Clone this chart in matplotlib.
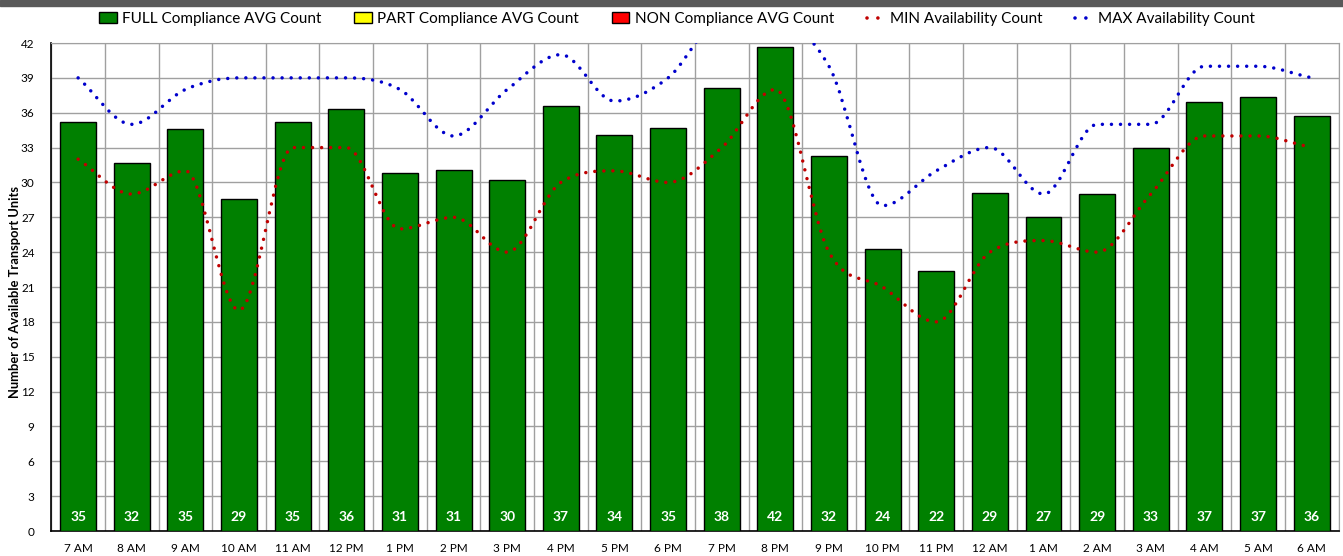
import matplotlib
matplotlib.use("Agg")
import matplotlib.pyplot as plt
import numpy as np
from matplotlib.path import Path
from matplotlib.patches import PathPatch, Patch, Rectangle
from matplotlib.lines import Line2D

plt.rcParams['font.family'] = ['Lato', 'DejaVu Sans']

hours = ['7 AM', '8 AM', '9 AM', '10 AM', '11 AM', '12 PM', '1 PM', '2 PM', '3 PM',
         '4 PM', '5 PM', '6 PM', '7 PM', '8 PM', '9 PM', '10 PM', '11 PM', '12 AM',
         '1 AM', '2 AM', '3 AM', '4 AM', '5 AM', '6 AM']
full_avg = [35.2, 31.7, 34.6, 28.6, 35.2, 36.3, 30.8, 31.1, 30.2, 36.6, 34.1, 34.7,
            38.1, 41.65, 32.3, 24.3, 22.4, 29.1, 27.0, 29.0, 33.0, 36.95, 37.35, 35.7]
part_avg = [0] * 24
non_avg = [0] * 24
min_avail = [32, 29, 31, 19, 33, 33, 26, 27, 24, 30, 31, 30,
             33, 38, 24, 21, 18, 24, 25, 24, 29, 34, 34, 33]
max_avail = [39, 35, 38, 39, 39, 39, 38, 34, 38, 41, 37, 39,
             44, 44, 40, 28, 31, 33, 29, 35, 35, 40, 40, 39]


def monotone_path(vals):
    # monotone cubic (fritsch-carlson) as bezier segments, like the source chart
    y = np.array(vals, float)
    n = len(y)
    d = np.diff(y)
    m = np.zeros(n)
    m[0], m[-1] = d[0], d[-1]
    for i in range(1, n - 1):
        if d[i - 1] * d[i] > 0:
            m[i] = (d[i - 1] + d[i]) / 2
    for i in range(n - 1):
        if d[i] == 0:
            m[i] = m[i + 1] = 0
            continue
        a, b = m[i] / d[i], m[i + 1] / d[i]
        s = a * a + b * b
        if s > 9:
            t = 3 / np.sqrt(s)
            m[i], m[i + 1] = t * a * d[i], t * b * d[i]
    pts = [(0, y[0])]
    codes = [Path.MOVETO]
    for i in range(n - 1):
        pts += [(i + 1 / 3, y[i] + m[i] / 3), (i + 2 / 3, y[i + 1] - m[i + 1] / 3), (i + 1, y[i + 1])]
        codes += [Path.CURVE4] * 3
    return Path(pts, codes)


fig = plt.figure(figsize=(13.43, 5.56), dpi=100)
ax = fig.add_axes([51.3 / 1343, 1 - 531 / 556, (1338.5 - 51.3) / 1343, (531 - 43) / 556])

fig.patches.append(Rectangle((0, 1 - 6 / 556), 1, 6 / 556, transform=fig.transFigure,
                             color='#595959', zorder=0))

x = np.arange(len(hours))
ax.bar(x, full_avg, width=0.67, color='#008000', edgecolor='black', linewidth=1, zorder=3)
ax.bar(x, part_avg, width=0.67, bottom=full_avg, color='#FFFF00', edgecolor='black',
       linewidth=0, zorder=3)

dot = (0, (0.01, 2.6))
for vals, col in [(min_avail, '#C00000'), (max_avail, '#0000CC')]:
    ax.add_patch(PathPatch(monotone_path(vals), facecolor='none', edgecolor=col, lw=2.5,
                           linestyle=dot, capstyle='round', zorder=4))

for xi, v in zip(x, full_avg):
    ax.annotate(f"{round(v)}", (xi, 0), xytext=(0, 10), textcoords='offset points',
                ha='center', va='center', color='white', fontsize=10, fontweight='bold',
                zorder=5)

ax.set_xlim(-0.5, len(hours) - 0.5)
ax.set_ylim(0, 42)
ax.set_yticks(np.arange(0, 43, 3))
ax.set_xticks(x)
ax.set_xticklabels(hours, fontsize=8.5)
ax.set_xticks(np.arange(-0.5, len(hours), 1), minor=True)
ax.tick_params(axis='both', which='both', length=0, labelsize=8.5)
ax.tick_params(axis='x', pad=9)
ax.tick_params(axis='y', pad=12)
ax.grid(axis='y', color='#A0A0A0', lw=1, zorder=0)
ax.grid(axis='x', which='minor', color='#A0A0A0', lw=1, zorder=0)
ax.set_axisbelow(True)
for s in ['top', 'right']:
    ax.spines[s].set_color('#A0A0A0')
for s in ['left', 'bottom']:
    ax.spines[s].set_color('black')
    ax.spines[s].set_linewidth(1.2)
ax.set_ylabel('Number of Available Transport Units', fontsize=9.3, fontweight='bold')
ax.yaxis.set_label_coords((21 - 51.3) / 1287, 0.49)

legdot = (0, (0.01, 3.0))
handles = [
    Patch(facecolor='#008000', edgecolor='black', lw=1),
    Patch(facecolor='#FFFF00', edgecolor='black', lw=1),
    Patch(facecolor='#FF0000', edgecolor='black', lw=1),
    Line2D([0], [0], color='#C00000', lw=2.6, linestyle=legdot, dash_capstyle='round'),
    Line2D([0], [0], color='#0000CC', lw=2.6, linestyle=legdot, dash_capstyle='round'),
]
labels = ['FULL Compliance AVG Count', 'PART Compliance AVG Count', 'NON Compliance AVG Count',
          'MIN Availability Count', 'MAX Availability Count']
fig.legend(handles, labels, loc='center', bbox_to_anchor=(0.504, 1 - 19 / 556), ncol=5,
           frameon=False, fontsize=11, handlelength=1.15, handleheight=0.7,
           handletextpad=0.35, columnspacing=2.15)

fig.savefig('out.png', dpi=100)
